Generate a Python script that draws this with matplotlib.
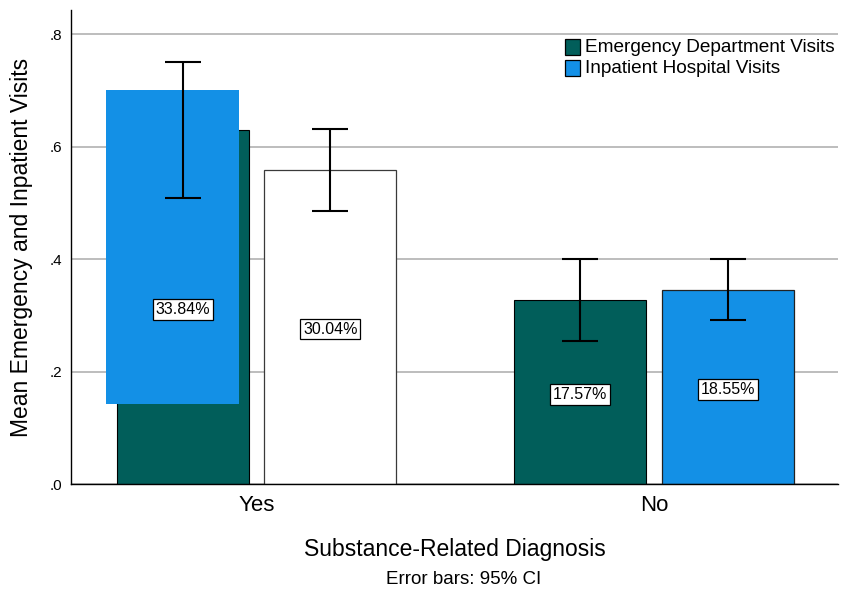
import matplotlib
matplotlib.use("Agg")
import matplotlib.pyplot as plt
from matplotlib.patches import Rectangle
import numpy as np

# ---- data ----
categories = ["Yes", "No"]
ed_mean = [0.629, 0.327]
ed_ci_low = [0.508, 0.254]
ed_ci_high = [0.750, 0.400]
ip_mean = [0.559, 0.345]
ip_ci_low = [0.485, 0.292]
ip_ci_high = [0.631, 0.400]
ed_pct = ["33.84%", "17.57%"]
ip_pct = ["30.04%", "18.55%"]
# stray inpatient-coloured block drawn over the "Yes" group in the original
ghost_low = [0.143]
ghost_high = [0.700]
yticks = [0.0, 0.2, 0.4, 0.6, 0.8]
ytick_labels = [".0", ".2", ".4", ".6", ".8"]

GREEN = "#015e5a"
BLUE = "#1390e6"

plt.rcParams['font.family'] = ['Liberation Sans', 'DejaVu Sans']

fig = plt.figure(figsize=(8.41, 5.89), dpi=100)
ax = fig.add_axes([71/841, 1-484/589, (838-71)/841, (484-10)/589])

x = np.arange(len(categories))
off = 0.1855
w = 0.332

ax.set_axisbelow(True)
ax.yaxis.grid(True, color="#ababab", linewidth=1.1)

# ED bars
ax.bar(x - off, ed_mean, w, color=GREEN, edgecolor="black", linewidth=0.8, zorder=2)
# IP bars (the "Yes" one rendered unfilled in the original)
ip_face = ["white", BLUE]
ip_edge = ["#3a3a3a", "#222222"]
ax.bar(x + off, ip_mean, w, color=ip_face, edgecolor=ip_edge, linewidth=0.9, zorder=2)

# stray block
ax.bar([x[0] - off - 0.027], [ghost_high[0] - ghost_low[0]], w + 0.003,
       bottom=[ghost_low[0]], color=BLUE, linewidth=0, zorder=3)

# error bars
ed_err = [np.array(ed_mean) - np.array(ed_ci_low), np.array(ed_ci_high) - np.array(ed_mean)]
ip_err = [np.array(ip_mean) - np.array(ip_ci_low), np.array(ip_ci_high) - np.array(ip_mean)]
ax.errorbar(x - off, ed_mean, yerr=ed_err, fmt="none", ecolor="black",
            elinewidth=1.5, capsize=13, capthick=1.5, zorder=5)
ax.errorbar(x + off, ip_mean, yerr=ip_err, fmt="none", ecolor="black",
            elinewidth=1.5, capsize=13, capthick=1.5, zorder=5)

# value labels
box = dict(boxstyle="square,pad=0.18", facecolor="white", edgecolor="black", linewidth=0.9)
for i in range(len(categories)):
    ax.text(x[i] - off, ed_mean[i] / 2 - 0.004, ed_pct[i], ha="center", va="center",
            fontsize=11.5, bbox=box, zorder=6)
    ax.text(x[i] + off, ip_mean[i] / 2 - 0.004, ip_pct[i], ha="center", va="center",
            fontsize=11.5, bbox=box, zorder=6)

ax.set_xlim(-0.467, 1.463)
ax.set_ylim(0, 0.843)
ax.set_yticks(yticks)
ax.set_yticklabels(ytick_labels, fontsize=11)
ax.set_xticks(x)
ax.set_xticklabels(categories, fontsize=16)
ax.tick_params(axis="y", length=0, pad=6)
ax.tick_params(axis="x", length=0, pad=8)

for s in ["top", "right"]:
    ax.spines[s].set_visible(False)
ax.spines["left"].set_linewidth(1.0)
ax.spines["bottom"].set_linewidth(1.0)

ax.set_ylabel("Mean Emergency and Inpatient Visits", fontsize=16.5, labelpad=12)
ax.set_xlabel("Substance-Related Diagnosis", fontsize=16.5, labelpad=16)
fig.text(464/841, 1-580/589, "Error bars: 95% CI", ha="center", va="center", fontsize=13.5)

# legend
leg_items = [("Emergency Department Visits", GREEN), ("Inpatient Hospital Visits", BLUE)]
for k, (lab, col) in enumerate(leg_items):
    ytop = 39 + k * 21
    r = Rectangle((565/841, 1-(ytop+16)/589), 15/841, 16/589, transform=fig.transFigure,
                  facecolor=col, edgecolor="black", linewidth=0.9)
    fig.patches.append(r)
    fig.text(585/841, 1-(ytop+8.5)/589, lab, ha="left", va="center", fontsize=13.7)

fig.savefig("out.png", dpi=100)
